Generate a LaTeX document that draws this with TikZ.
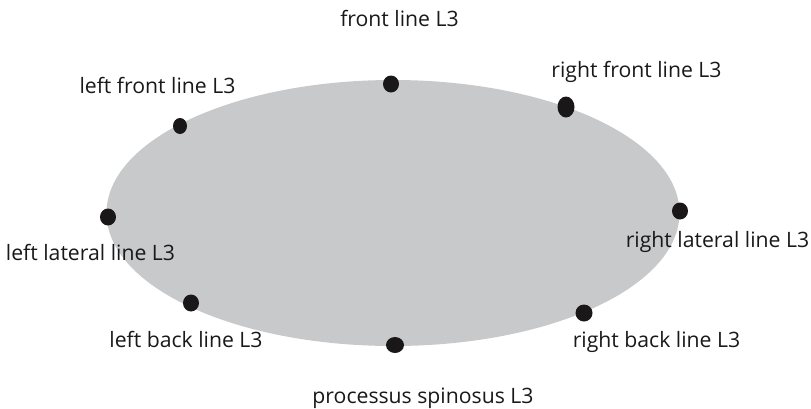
\documentclass[tikz,border=0pt]{standalone}
\usepackage{fontspec}
\setmainfont{Open Sans}
\usetikzlibrary{shapes.geometric}
\definecolor{bodygray}{HTML}{C8C9CB}
\definecolor{dotblack}{HTML}{1A1718}
\tikzset{
  dotmark/.style={ellipse, fill=dotblack, inner sep=0pt, minimum width=16pt, minimum height=17pt},
  lbl/.style={anchor=base, inner sep=0pt, font=\fontsize{21.2}{25}\selectfont, text=black!90}
}
\begin{document}
\begin{tikzpicture}[x=1pt,y=-1pt]
\useasboundingbox (0,0) rectangle (811,408);
\node[ellipse, fill=bodygray, inner sep=0pt, minimum width=573pt, minimum height=266pt] (body) at (393,213) {};
\node[dotmark] (front) at (391,84) {};
\node[dotmark, minimum width=14pt, minimum height=16pt] (leftfront) at (180,126) {};
\node[dotmark, minimum width=17pt, minimum height=21pt] (rightfront) at (566,107) {};
\node[dotmark] (leftlat) at (108,217) {};
\node[dotmark] (rightlat) at (680,211) {};
\node[dotmark] (leftback) at (191,303) {};
\node[dotmark, minimum width=17pt] (rightback) at (584,313) {};
\node[dotmark, minimum width=18pt, minimum height=16pt] (proc) at (395,345) {};
\node[lbl] (tfront) at (399.5,26) {front line L3};
\node[lbl] (tleftfront) at (157.5,93) {left front line L3};
\node[lbl] (trightfront) at (636.5,77) {right front line L3};
\node[lbl] (tleftlat) at (90.5,260) {left lateral line L3};
\node[lbl] (trightlat) at (717.5,247) {right lateral line L3};
\node[lbl] (tleftback) at (186,347) {left back line L3};
\node[lbl] (trightback) at (656.5,347) {right back line L3};
\node[lbl] (tproc) at (423,403) {processus spinosus L3};
\end{tikzpicture}
\end{document}
